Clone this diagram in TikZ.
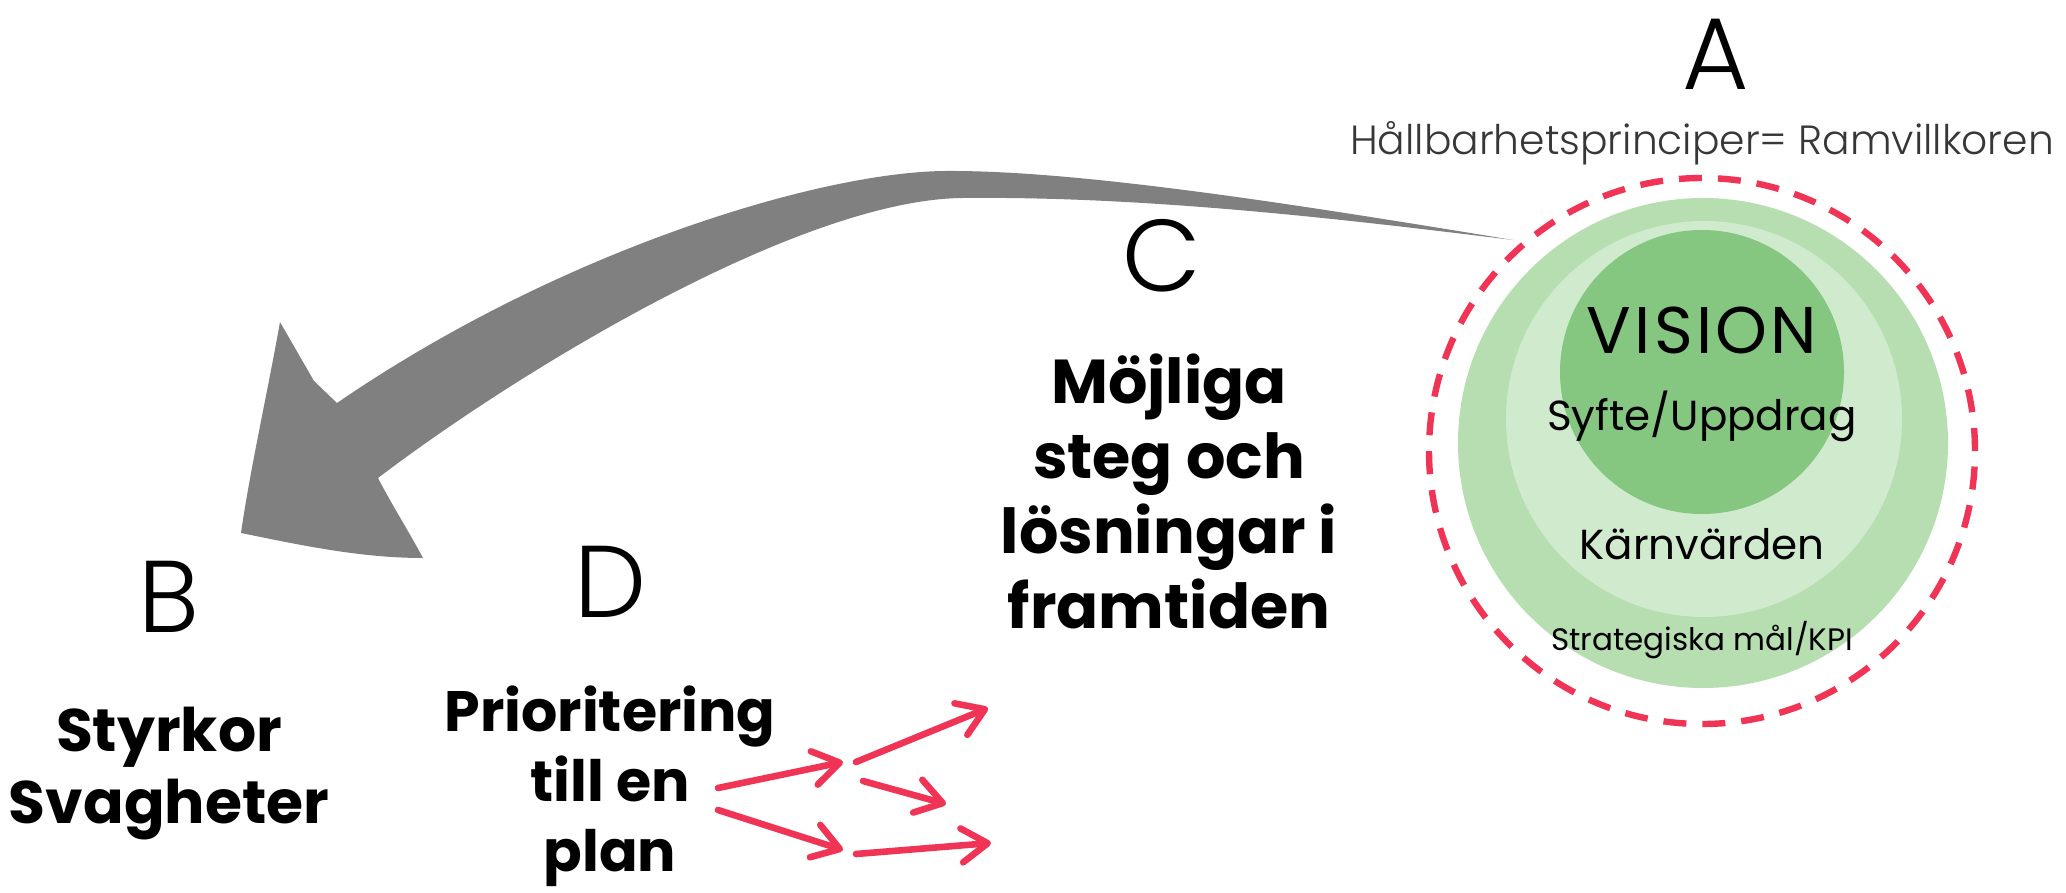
\documentclass[tikz,border=0pt]{standalone}
\usepackage{fontspec}
\setmainfont{Poppins}
\newfontfamily\thinfont{Poppins Light}
\newfontfamily\visionfont{Poppins}[LetterSpace=5]
\usetikzlibrary{arrows.meta}

\definecolor{framered}{RGB}{240,52,86}
\definecolor{ringout}{RGB}{182,222,177}
\definecolor{ringmid}{RGB}{208,234,205}
\definecolor{ringin}{RGB}{133,198,128}
\definecolor{arrowgray}{RGB}{128,128,128}
\definecolor{principle}{RGB}{55,55,55}

\tikzset{
    letter/.style={font=\thinfont\fontsize{51}{51}\selectfont,anchor=base,inner sep=0pt},
    boldtext/.style={font=\bfseries\fontsize{31}{37.5}\selectfont,align=center},
    ringtext/.style={anchor=base,inner sep=0pt},
    planarrow/.style={draw=framered,line width=3.3pt,line cap=round,
        -{Straight Barb[length=13pt,width=17pt,round]}},
}

\begin{document}
\begin{tikzpicture}[x=0.5pt,y=-0.5pt]
        \useasboundingbox (0,0) rectangle (2066,893);
        %% A: rings
        \fill[ringout] (1703,443) circle (122.5pt);
        \fill[ringmid] (1704,419) circle (99pt);
        \fill[ringin] (1702,372) circle (71pt);
        \draw[framered,line width=3.2pt,dash pattern=on 11.5pt off 8pt] (1702,451) circle (136.5pt);
        \node[letter] (lettA) at (1716,90) {A};
        \node[ringtext,text=principle,font=\thinfont\fontsize{20.4}{20.4}\selectfont] (princ) at (1702,155) {Hållbarhetsprinciper= Ramvillkoren};
        \node[ringtext,font=\visionfont\fontsize{33}{33}\selectfont] (vision) at (1702,353) {VISION};
        \node[ringtext,font=\fontsize{21}{21}\selectfont] (syfte) at (1702,430) {Syfte/Uppdrag};
        \node[ringtext,font=\fontsize{21}{21}\selectfont] (karn) at (1702,559) {Kärnvärden};
        \node[ringtext,font=\fontsize{15.5}{15.5}\selectfont] (mal) at (1702,650) {Strategiska mål/KPI};
        %% big arrow from A to B
        \fill[arrowgray] (1513,240)
            .. controls (1300,205) and (1080,170) .. (945,171)
            .. controls (820,172) and (560,250) .. (337,403)
            -- (314,381) -- (280,322)
            .. controls (268,390) and (250,470) .. (241,533)
            .. controls (300,545) and (360,558) .. (423,558)
            .. controls (408,530) and (392,505) .. (378,478)
            .. controls (520,370) and (800,200) .. (962,198)
            .. controls (1150,196) and (1350,220) .. (1513,240) -- cycle;
        %% B
        \node[letter] (lettB) at (169,632) {B};
        \node[boldtext,font=\bfseries\fontsize{30}{36}\selectfont] (styrkor) at (169,774) {Styrkor\\Svagheter};
        %% C
        \node[letter] (lettC) at (1162,292) {C};
        \node[boldtext] (steg) at (1169,491) {Möjliga\\steg och\\lösningar i\\framtiden};
        %% D
        \node[letter] (lettD) at (610,617) {D};
        \node[boldtext,font=\bfseries\fontsize{28.5}{35}\selectfont] (prio) at (610,786) {Prioritering\\till en\\plan};
        \coordinate (prioUp) at (718,788);
        \coordinate (prioDown) at (718,810);
        \coordinate (forkUp) at (843,762);
        \coordinate (forkDown) at (843,850);
        \coordinate (stepUpS) at (856,762);
        \coordinate (stepUpE) at (988,708);
        \coordinate (stepMidS) at (863,781);
        \coordinate (stepMidE) at (946,804);
        \coordinate (stepLowS) at (856,854);
        \coordinate (stepLowE) at (991,843);
        \draw[planarrow] (prioUp) -- (forkUp);
        \draw[planarrow] (prioDown) -- (forkDown);
        \draw[planarrow] (stepUpS) -- (stepUpE);
        \draw[planarrow] (stepMidS) -- (stepMidE);
        \draw[planarrow] (stepLowS) -- (stepLowE);
    \end{tikzpicture}
\end{document}
